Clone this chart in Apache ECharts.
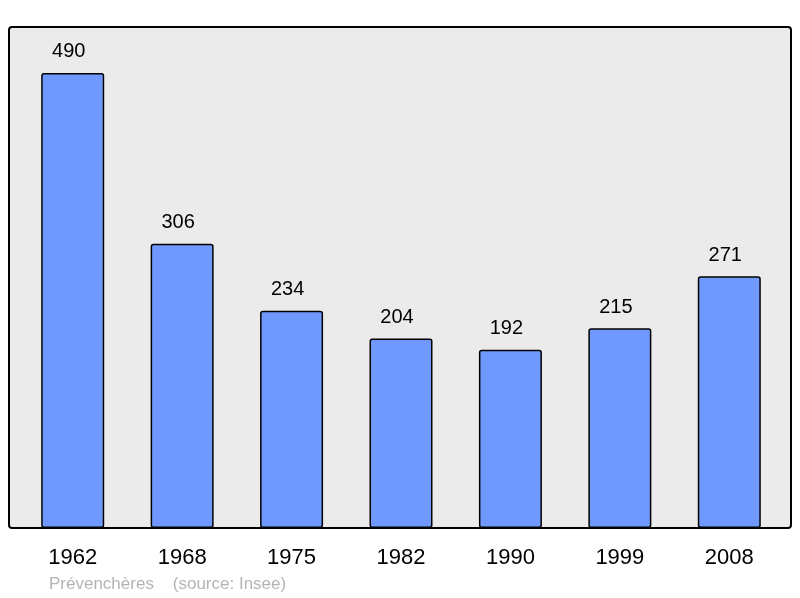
<!DOCTYPE html>
<html>
<head>
<meta charset="utf-8">
<script src="https://cdn.jsdelivr.net/npm/echarts@6/dist/echarts.min.js"></script>
<style>
  html, body { margin: 0; padding: 0; background: #fff; }
  #main { width: 800px; height: 598px; }
</style>
</head>
<body>
<div id="main"></div>
<script>
// population par recensement
var years = ['1962', '1968', '1975', '1982', '1990', '1999', '2008'];
var population = [490, 306, 234, 204, 192, 215, 271];

var myChart = echarts.init(document.getElementById('main'));

var option = {
  animation: false,
  backgroundColor: '#ffffff',
  textStyle: { fontFamily: 'Liberation Sans, Arial, sans-serif' },
  // cadre gris derrière le graphique
  graphic: [{
    type: 'rect',
    z: -10,
    shape: { x: 9, y: 27, width: 782, height: 501, r: 3 },
    style: { fill: '#ebebeb', stroke: '#000', lineWidth: 2 }
  }, {
    type: 'text',
    left: 49,
    top: 576,
    style: {
      text: 'Prévenchères    (source: Insee)',
      fill: '#b4b4b4',
      font: '17px Liberation Sans, Arial, sans-serif'
    }
  }],
  grid: { left: 18, right: 16, top: 27, bottom: 70 },
  xAxis: {
    type: 'category',
    data: years,
    axisLine: { show: false },
    axisTick: { show: false },
    axisLabel: { margin: 19, fontSize: 22, color: '#000' }
  },
  yAxis: {
    type: 'value',
    min: 0,
    max: 539.5,
    show: false,
    splitLine: { show: false }
  },
  series: [{
    type: 'bar',
    data: population,
    barWidth: 63,
    itemStyle: { color: '#7099ff', borderColor: '#000', borderWidth: 1.5, borderRadius: 2 },
    label: { show: true, position: 'top', distance: 11, offset: [-4, 0], fontSize: 20, color: '#000' }
  }]
};

myChart.setOption(option);
</script>
</body>
</html>
